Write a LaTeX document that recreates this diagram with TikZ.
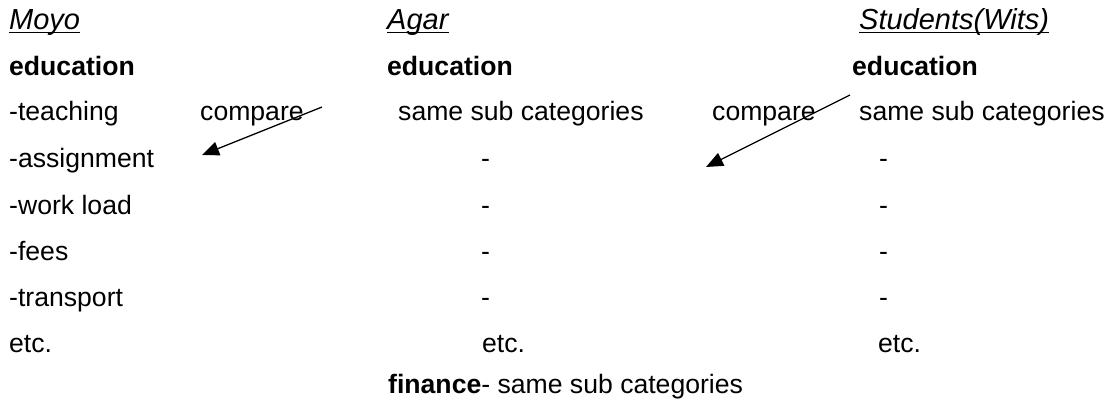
\documentclass[tikz,border=0pt]{standalone}
\usepackage{fontspec}
\setmainfont{Liberation Sans}
\usetikzlibrary{arrows.meta}

\definecolor{inkblack}{RGB}{0,0,0}

\begin{document}
\begin{tikzpicture}[x=1pt, y=-1pt,
    txt/.style={anchor=base west, inner sep=0pt, text=inkblack,
                font=\fontsize{26.6}{32}\selectfont},
    head/.style={txt, font=\fontsize{29}{34}\selectfont\itshape},
    cat/.style={txt, font=\fontsize{26.6}{32}\selectfont\bfseries},
    uline/.style={inkblack, line width=1.4pt},
    cmparrow/.style={inkblack, line width=1.3pt, -{Triangle[length=17pt,width=14pt]}}]

  \useasboundingbox (0,0) rectangle (1109,404);

  % column headings
  \node[head] (moyo) at (9,30) {Moyo};
  \node[head] (agar) at (387,30) {Agar};
  \node[head] (wits) at (859,30) {Students(Wits)};
  \foreach \h in {moyo,agar,wits}
    \draw[uline] ([yshift=-2.5pt]\h.base west) -- ([yshift=-2.5pt]\h.base east);

  % education rows
  \node[cat] (edumoyo) at (9,76) {education};
  \node[cat] (eduagar) at (387,76) {education};
  \node[cat] (eduwits) at (852,76) {education};

  % Moyo: sub categories
  \node[txt] (teach) at (9,121) {-teaching};
  \node[txt] (assign) at (9,167) {-assignment};
  \node[txt] (work) at (9,214) {-work load};
  \node[txt] (fees) at (9,260) {-fees};
  \node[txt] (trans) at (9,306) {-transport};
  \node[txt] (etcmoyo) at (9,352) {etc.};

  % Agar and Students: same sub categories
  \node[txt] (subagar) at (398,121) {same sub categories};
  \node[txt] (subwits) at (859,121) {same sub categories};
  \foreach \y [count=\i] in {167,214,260,306} {
    \node[txt] (dagar\i) at (481,\y) {-};
    \node[txt] (dwits\i) at (879,\y) {-};
  }
  \node[txt] (etcagar) at (482,352) {etc.};
  \node[txt] (etcwits) at (878,352) {etc.};

  % comparisons
  \node[txt] (cmpone) at (200,121) {compare};
  \node[txt] (cmptwo) at (712,121) {compare};
  \coordinate (cmponefrom) at (322,107);
  \coordinate (cmponeto) at (202,155);
  \coordinate (cmptwofrom) at (850,95);
  \coordinate (cmptwoto) at (706,167);
  \draw[cmparrow] (cmponefrom) -- (cmponeto);
  \draw[cmparrow] (cmptwofrom) -- (cmptwoto);

  % finance
  \node[txt] (fin) at (388,393) {\textbf{finance}- same sub categories};

\end{tikzpicture}
\end{document}
